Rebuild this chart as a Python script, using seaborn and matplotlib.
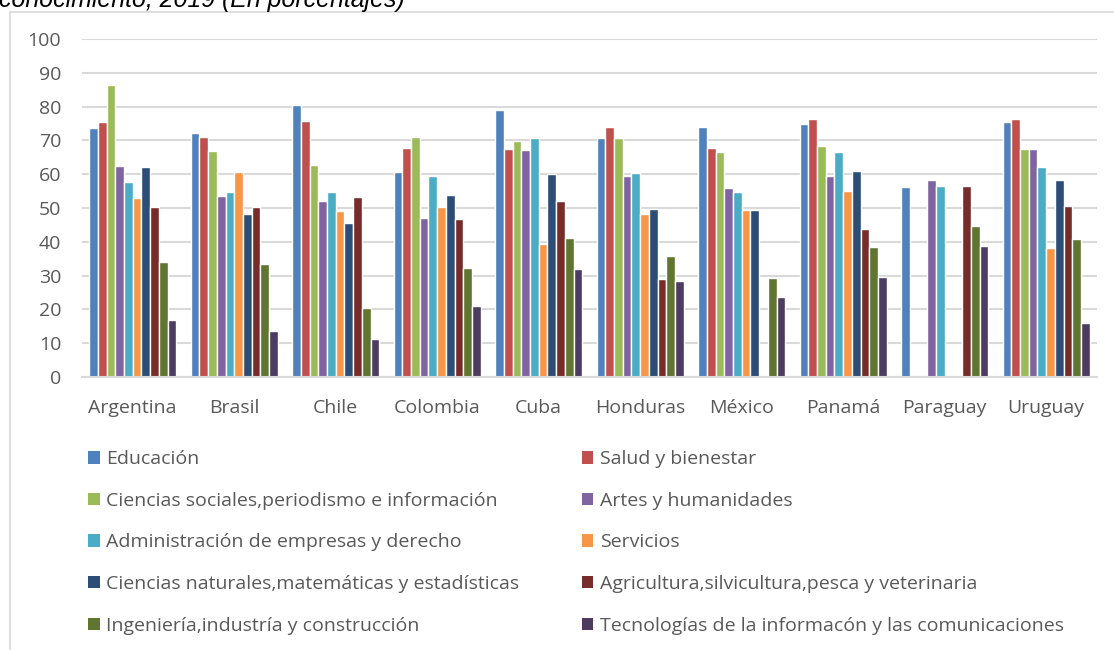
import numpy as np
import pandas as pd
import seaborn as sns
import matplotlib
matplotlib.use("Agg")
import matplotlib.pyplot as plt
from matplotlib.patches import Patch, Rectangle

# Countries on the x axis
paises = ["Argentina", "Brasil", "Chile", "Colombia", "Cuba",
          "Honduras", "México", "Panamá", "Paraguay", "Uruguay"]

# Fields of knowledge (series)
areas = [
    "Educación",
    "Salud y bienestar",
    "Ciencias sociales,periodismo e información",
    "Artes y humanidades",
    "Administración de empresas y derecho",
    "Servicios",
    "Ciencias naturales,matemáticas y estadísticas",
    "Agricultura,silvicultura,pesca y veterinaria",
    "Ingeniería,industría y construcción",
    "Tecnologías de la informacón y las comunicaciones",
]

nan = np.nan
# Percentages per field, one value per country (same order as `paises`)
educacion      = [73.6, 72.2, 80.5, 60.6, 79.0, 70.7, 73.9, 74.8, 56.2, 75.4]
salud          = [75.4, 71.0, 75.7, 67.7, 67.4, 73.9, 67.7, 76.3, nan, 76.3]
ciencias_soc   = [86.4, 66.8, 62.7, 71.0, 69.8, 70.7, 66.5, 68.3, nan, 67.4]
artes          = [62.4, 53.5, 52.0, 47.0, 67.1, 59.4, 55.9, 59.4, 58.2, 67.4]
administracion = [57.7, 54.7, 54.7, 59.4, 70.7, 60.3, 54.7, 66.5, 56.5, 62.1]
servicios      = [52.9, 60.6, 49.1, 50.2, 39.3, 48.2, 49.4, 55.0, nan, 38.1]
ciencias_nat   = [62.1, 48.2, 45.5, 53.8, 60.0, 49.7, 49.4, 60.9, nan, 58.2]
agricultura    = [50.2, 50.2, 53.2, 46.7, 52.0, 28.9, nan, 43.7, 56.5, 50.5]
ingenieria     = [34.0, 33.4, 20.3, 32.2, 41.1, 35.7, 29.2, 38.4, 44.6, 40.8]
tic            = [16.8, 13.5, 11.1, 20.9, 31.9, 28.3, 23.6, 29.5, 38.7, 15.9]

series = [educacion, salud, ciencias_soc, artes, administracion,
          servicios, ciencias_nat, agricultura, ingenieria, tic]

colores = ["#4F81BD", "#C0504D", "#9BBB59", "#8064A2", "#4BACC6",
           "#F79646", "#2C4D75", "#772C2A", "#5F7530", "#4D3B62"]

df = pd.DataFrame(
    [(p, a, v) for a, vals in zip(areas, series) for p, v in zip(paises, vals)],
    columns=["pais", "area", "valor"],
)

sns.set_theme(style="white")
plt.rcParams["font.family"] = ["Open Sans", "DejaVu Sans"]
texto = "#595959"

fig = plt.figure(figsize=(11.14, 6.5), dpi=100)
ax = fig.add_axes([0.0736, 0.42, 0.9111, 0.52])

sns.barplot(data=df, x="pais", y="valor", hue="area", order=paises,
            hue_order=areas, palette=colores, width=0.86, errorbar=None,
            edgecolor="white", linewidth=1.0, saturation=1, ax=ax,
            legend=False)

ax.set_ylim(0, 100)
ax.set_yticks(range(0, 101, 10))
ax.set_xlim(-0.5, len(paises) - 0.5)
ax.yaxis.grid(True, color="#D9D9D9", linewidth=1.5)
ax.set_axisbelow(True)
for s in ["top", "right", "left"]:
    ax.spines[s].set_visible(False)
ax.spines["bottom"].set_color("#D9D9D9")
ax.spines["bottom"].set_linewidth(1.5)
ax.set_xlabel("")
ax.set_ylabel("")
ax.tick_params(axis="y", length=0, pad=15, labelsize=14, labelcolor=texto)
ax.tick_params(axis="x", length=0, pad=16, labelsize=14, labelcolor=texto)

# Chart frame
fig.patches.append(Rectangle((10 / 1114, -0.1), 1.2, 0.1 + (650 - 12) / 650,
                             transform=fig.transFigure, fill=False,
                             edgecolor="#D9D9D9", linewidth=1.2))

# Title (only its lower part fits in the canvas)
fig.text(-0.001, 1 - 7 / 650, "conocimiento, 2019 (En porcentajes)",
         fontsize=17.9, style="italic", family="Liberation Sans",
         ha="left", va="baseline", color="black")

# Legend: two columns, filled row by row
handles = [Patch(facecolor=c, edgecolor="none") for c in colores]
orden = [0, 2, 4, 6, 8, 1, 3, 5, 7, 9]
leg = fig.legend([handles[i] for i in orden], [areas[i] for i in orden],
                 ncol=2, loc="upper left", bbox_to_anchor=(0.072, 0.319),
                 frameon=False, fontsize=14, labelcolor=texto,
                 handlelength=0.6, handleheight=0.6, handletextpad=0.35,
                 labelspacing=1.21, columnspacing=3.2, borderaxespad=0)

fig.savefig("out.png", dpi=100)
